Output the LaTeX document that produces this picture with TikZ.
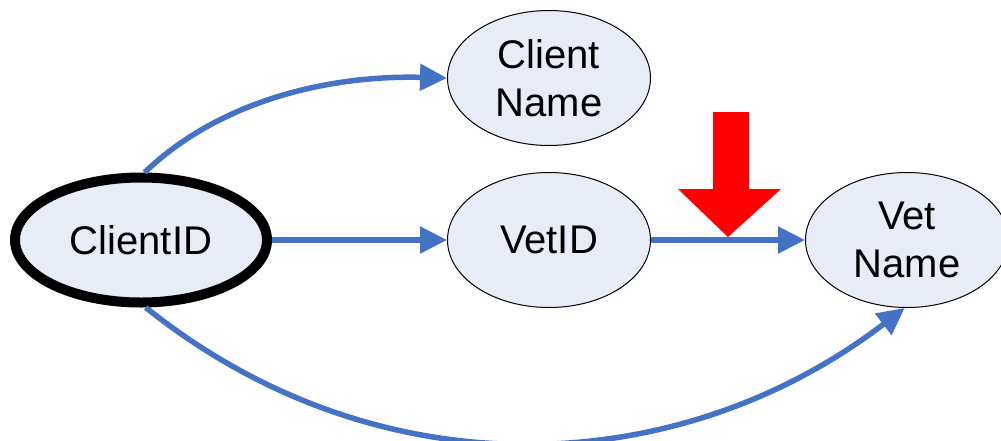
\documentclass[tikz,border=0pt]{standalone}
\usepackage{fontspec}
\setmainfont{Liberation Sans}
\usetikzlibrary{shapes.geometric,arrows.meta}
\definecolor{linkblue}{RGB}{68,114,196}
\definecolor{attrfill}{RGB}{231,236,246}
\begin{document}
\begin{tikzpicture}[x=1pt,y=-1pt,
  attr/.style={ellipse,draw=black,fill=attrfill,line width=1pt,inner sep=0pt,
    minimum width=203pt,minimum height=135pt,align=center,
    font=\fontsize{40}{48}\selectfont},
  keyattr/.style={attr,line width=10pt,minimum width=252pt,minimum height=125pt},
  link/.style={draw=linkblue,line width=5.5pt,
    -{Triangle[length=27pt,width=26pt]}}]
\useasboundingbox (0,0) rectangle (1001,440);

% attributes
\node[keyattr] (cid) at (141,240) {ClientID};
\node[attr] (cn) at (549,78) {Client\\Name};
\node[attr] (vid) at (549,240) {VetID};
\node[attr] (vn) at (907,240) {Vet\\Name};

% dependencies
\draw[link] (cid) -- (vid);
\draw[link] (vid) -- (vn);
\draw[link] (cid.87) .. controls (220,100) and (330,75) .. (cn.west);
\draw[link] (cid.-86) .. controls (380,495) and (680,480) .. (vn.-92);

% highlight marker
\fill[red] (713,112) -- (749,112) -- (749,189) -- (781,189) -- (728,237)
  -- (678,189) -- (713,189) -- cycle;
\end{tikzpicture}
\end{document}
